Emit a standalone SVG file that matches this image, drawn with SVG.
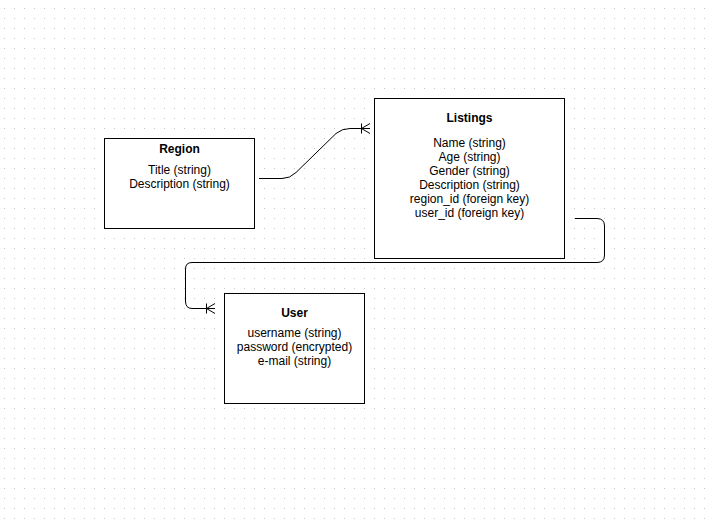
<svg xmlns="http://www.w3.org/2000/svg" width="712" height="526" viewBox="0 0 712 526">
  <defs>
    <pattern id="grid" x="0" y="0" width="10" height="10" patternUnits="userSpaceOnUse">
      <rect x="4" y="8" width="1" height="1" fill="#c8c8c8"/>
    </pattern>
  </defs>
  <style>
    .box { fill: #ffffff; stroke: #000000; stroke-width: 1; }
    .title { font-family: "Liberation Sans", Arial, sans-serif; font-size: 12px; font-weight: bold; fill: #000; text-anchor: middle; }
    .attr { font-family: "Liberation Sans", Arial, sans-serif; font-size: 12px; fill: #000; text-anchor: middle; }
    .edge { fill: none; stroke: #000000; stroke-width: 1; }
  </style>
  <rect x="0" y="0" width="712" height="526" fill="#ffffff"/>
  <rect x="0" y="0" width="712" height="526" fill="url(#grid)"/>

  <g id="connectors">
    <g id="edge-region-listings">
      <path class="edge" d="M259,178.5 L282,178.5 Q290,178.5 296,172.5 L336,133.5 Q342,128.5 350,128.5 L370,128.5"/>
      <path class="edge" d="M361.5,123.5 L361.5,133.5 M361.5,128.5 L370,123.5 M361.5,128.5 L370,133.5"/>
    </g>
    <g id="edge-listings-user">
      <path class="edge" d="M575,218.5 L597,218.5 Q604.5,218.5 604.5,226 L604.5,255 Q604.5,262.5 597,262.5 L192,262.5 Q185.5,262.5 185.5,269 L185.5,301 Q185.5,308.5 192,308.5 L215,308.5"/>
      <path class="edge" d="M206.5,303.5 L206.5,313.5 M206.5,308.5 L215,303.5 M206.5,308.5 L215,313.5"/>
    </g>
  </g>

  <g id="node-region">
    <rect class="box" x="104.5" y="138.5" width="150" height="90"/>
    <text class="title" x="179.5" y="153">Region</text>
    <text class="attr" x="179.5" y="174">Title (string)</text>
    <text class="attr" x="179.5" y="188">Description (string)</text>
  </g>

  <g id="node-listings">
    <rect class="box" x="374.5" y="98.5" width="190" height="160"/>
    <text class="title" x="469.5" y="122">Listings</text>
    <text class="attr" x="469.5" y="147">Name (string)</text>
    <text class="attr" x="469.5" y="161">Age (string)</text>
    <text class="attr" x="469.5" y="175">Gender (string)</text>
    <text class="attr" x="469.5" y="189">Description (string)</text>
    <text class="attr" x="469.5" y="203">region_id (foreign key)</text>
    <text class="attr" x="469.5" y="217">user_id (foreign key)</text>
  </g>

  <g id="node-user">
    <rect class="box" x="224.5" y="293.5" width="140" height="110"/>
    <text class="title" x="294.5" y="317">User</text>
    <text class="attr" x="294.5" y="337">username (string)</text>
    <text class="attr" x="294.5" y="351">password (encrypted)</text>
    <text class="attr" x="294.5" y="365">e-mail (string)</text>
  </g>
</svg>
